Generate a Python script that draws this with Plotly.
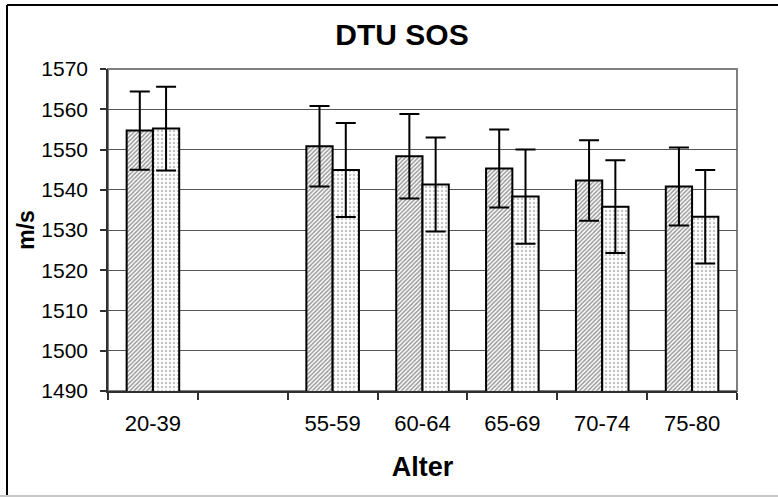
import plotly.graph_objects as go

categories = ["20-39", " ", "55-59", "60-64", "65-69", "70-74", "75-80"]
series1 = [1554.7, None, 1550.8, 1548.3, 1545.3, 1542.3, 1540.8]
series1_err = [9.7, None, 10.0, 10.5, 9.7, 10.0, 9.7]
series2 = [1555.2, None, 1544.9, 1541.3, 1538.3, 1535.8, 1533.3]
series2_err = [10.4, None, 11.7, 11.7, 11.7, 11.5, 11.6]
y_ticks = [1490, 1500, 1510, 1520, 1530, 1540, 1550, 1560, 1570]

FONT = "Liberation Sans, Arial, sans-serif"

fig = go.Figure()
fig.add_trace(go.Bar(
    x=categories, y=series1, name="Serie 1",
    marker=dict(color="white", line=dict(color="black", width=2),
                pattern=dict(shape="/", fgcolor="#333333", bgcolor="white", size=3, solidity=0.5)),
    error_y=dict(type="data", array=series1_err, color="black", thickness=2, width=10),
))
fig.add_trace(go.Bar(
    x=categories, y=series2, name="Serie 2",
    marker=dict(color="white", line=dict(color="black", width=2),
                pattern=dict(shape=".", fgcolor="#8a8a8a", bgcolor="white", size=4, solidity=0.3)),
    error_y=dict(type="data", array=series2_err, color="black", thickness=2, width=10),
))

L, R, T, B = 108, 41, 69, 106
W, H = 778, 497
pw, ph = W - L - R, H - T - B


def px_x(x):
    return (x - L) / pw


def px_y(y):
    return (H - B - y) / ph


fig.update_layout(
    width=W, height=H,
    margin=dict(l=L, r=R, t=T, b=B),
    paper_bgcolor="white", plot_bgcolor="white",
    showlegend=False,
    barmode="group", bargap=0.415, bargroupgap=0,
    title=dict(text="<b>DTU SOS</b>", x=402 / W, xanchor="center", y=1 - 34 / H, yanchor="middle",
               font=dict(family=FONT, size=30, color="black")),
    font=dict(family=FONT, color="black"),
    xaxis=dict(
        type="category", categoryorder="array", categoryarray=categories,
        showgrid=False, showline=True, linecolor="#303030", linewidth=1.5,
        ticks="outside", tickson="boundaries", ticklen=7, tickcolor="#303030", tickwidth=1.5,
        ticklabelstandoff=12,
        tickfont=dict(family=FONT, size=22, color="black"),
        title=dict(text="<b>Alter</b>", font=dict(family=FONT, size=27, color="black"), standoff=22),
    ),
    yaxis=dict(
        range=[1490, 1570], tickvals=y_ticks, ticktext=[str(v) for v in y_ticks],
        showgrid=True, gridcolor="#555555", gridwidth=1,
        showline=True, linecolor="#303030", linewidth=1.5,
        ticks="outside", ticklen=6, tickcolor="#303030", tickwidth=1.5,
        ticklabelstandoff=8,
        tickfont=dict(family=FONT, size=21, color="black"),
        title=dict(text="<b>m/s</b>", font=dict(family=FONT, size=23, color="black"), standoff=0),
        zeroline=False,
    ),
    shapes=[
        dict(type="rect", xref="paper", yref="paper", x0=0, x1=1, y0=0, y1=1,
             line=dict(color="#808080", width=2), layer="below"),
        dict(type="line", xref="paper", yref="paper",
             x0=px_x(7), x1=px_x(7), y0=px_y(5), y1=px_y(H),
             line=dict(color="black", width=2), layer="below"),
        dict(type="line", xref="paper", yref="paper",
             x0=px_x(7), x1=px_x(W), y0=px_y(5), y1=px_y(5),
             line=dict(color="black", width=2), layer="below"),
        dict(type="line", xref="paper", yref="paper",
             x0=px_x(0), x1=px_x(W), y0=px_y(496), y1=px_y(496),
             line=dict(color="#c8c8c8", width=2), layer="below"),
    ],
)

fig.write_html(
    "out.html",
    config={"displayModeBar": False},
    post_script="document.body.style.margin='0';document.body.style.overflow='hidden';",
)
